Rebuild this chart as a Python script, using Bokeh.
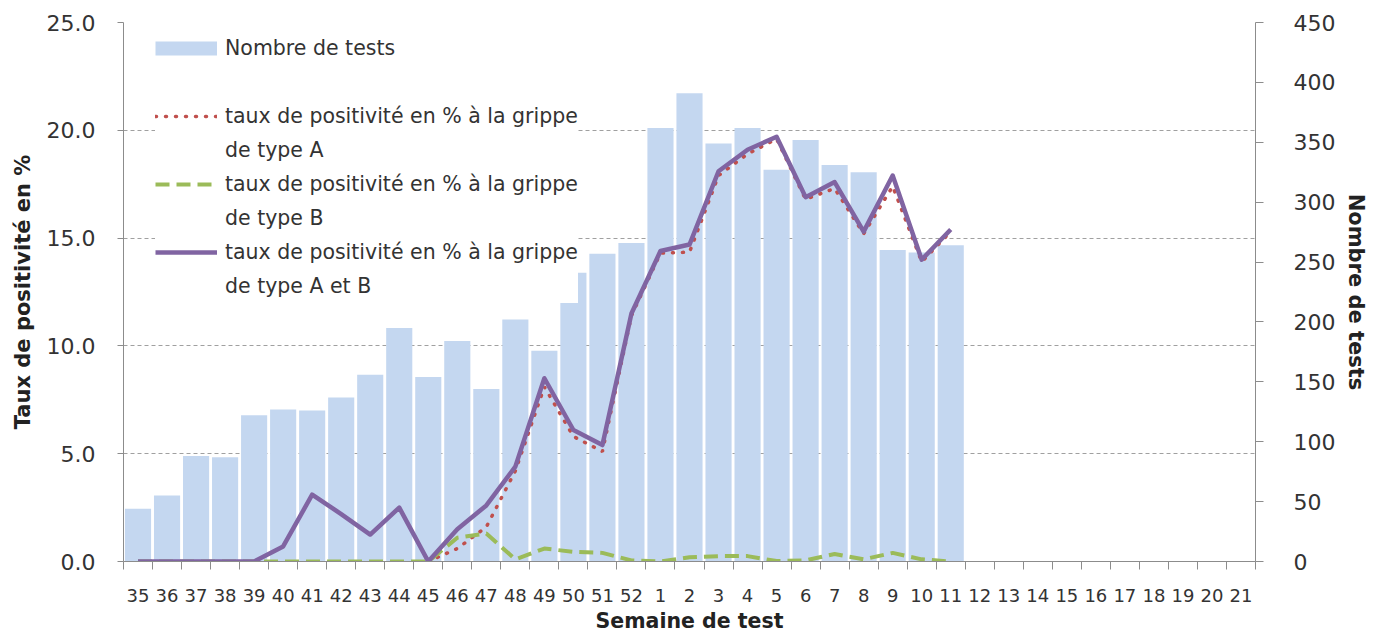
from bokeh.plotting import figure
from bokeh.models import (Range1d, LinearAxis, FixedTicker, Legend, LegendItem,
                          NumeralTickFormatter)
from bokeh.embed import file_html
from bokeh.resources import INLINE

NaN = float("nan")

weeks = ["35", "36", "37", "38", "39", "40", "41", "42", "43", "44", "45", "46",
         "47", "48", "49", "50", "51", "52", "1", "2", "3", "4", "5", "6", "7",
         "8", "9", "10", "11", "12", "13", "14", "15", "16", "17", "18", "19",
         "20", "21"]

tests = [44, 55, 88, 87, 122, 127, 126, 137, 156, 195, 154, 184, 144, 202, 176,
         241, 257, 266, 362, 391, 349, 362, 327, 352, 331, 325, 260, 258, 264]

rate_a = [NaN, NaN, NaN, NaN, NaN, NaN, NaN, NaN, NaN, NaN, 0.0, 0.6, 1.6, 4.2,
          8.1, 5.8, 5.1, 11.4, 14.3, 14.35, 17.9, 18.9, 19.6, 16.8, 17.3, 15.2,
          17.4, 13.9, 15.3]

rate_b = [0.0, 0.0, 0.0, 0.0, 0.0, 0.0, 0.0, 0.0, 0.0, 0.0, 0.0, 1.1, 1.3, 0.1,
          0.6, 0.45, 0.4, 0.05, 0.0, 0.2, 0.25, 0.25, 0.02, 0.05, 0.35, 0.1,
          0.4, 0.1, 0.0]

rate_ab = [0.0, 0.0, 0.0, 0.0, 0.0, 0.7, 3.1, 2.2, 1.25, 2.5, 0.0, 1.5, 2.6, 4.4,
           8.5, 6.1, 5.4, 11.5, 14.4, 14.7, 18.1, 19.1, 19.7, 16.9, 17.6, 15.3,
           17.9, 14.0, 15.4]

left_ticks = [0, 5, 10, 15, 20, 25]
right_ticks = [0, 50, 100, 150, 200, 250, 300, 350, 400, 450]

label_a = "taux de positivité en % à la grippe"
legend_lines = ["Nombre de tests", " ", label_a, "de type A", label_a,
                "de type B", label_a, "de type A et B"]

FONT = "DejaVu Sans"
TXT = "#333333"
AX = "#8c8c8c"

x_all = list(range(len(weeks)))
x_data = x_all[:len(tests)]

p = figure(width=1374, height=635, output_backend="svg", toolbar_location=None,
           x_range=Range1d(-0.5, len(weeks) - 0.5), y_range=Range1d(0, 25),
           min_border_left=123, min_border_right=119, min_border_top=22,
           min_border_bottom=73)
p.extra_y_ranges = {"tests": Range1d(0, 450)}
p.outline_line_color = None
p.background_fill_color = "white"
p.border_fill_color = "white"

# x axis
xa = p.xaxis[0]
xa.ticker = FixedTicker(ticks=x_all, minor_ticks=[i - 0.5 for i in range(len(weeks) + 1)])
xa.major_label_overrides = {i: w for i, w in enumerate(weeks)}
xa.major_tick_line_color = None
xa.major_tick_out = 8
xa.major_tick_in = 0
xa.minor_tick_line_color = AX
xa.minor_tick_out = 8
xa.minor_tick_in = 0
xa.axis_line_color = AX
xa.major_label_standoff = 19
xa.major_label_text_font = FONT
xa.major_label_text_font_size = "18px"
xa.major_label_text_color = TXT
xa.axis_label = "Semaine de test"
xa.axis_label_text_font = FONT
xa.axis_label_text_font_style = "bold"
xa.axis_label_text_font_size = "20.5px"
xa.axis_label_text_color = "#222222"
xa.axis_label_standoff = 4

# left axis
ya = p.yaxis[0]
ya.ticker = FixedTicker(ticks=left_ticks)
ya.formatter = NumeralTickFormatter(format="0.0")
ya.major_tick_out = 6
ya.major_tick_in = 0
ya.major_tick_line_color = AX
ya.minor_tick_line_color = None
ya.axis_line_color = AX
ya.major_label_standoff = 22
ya.major_label_text_font = FONT
ya.major_label_text_font_size = "22px"
ya.major_label_text_color = TXT
ya.axis_label = "Taux de positivité en %"
ya.axis_label_text_font = FONT
ya.axis_label_text_font_style = "bold"
ya.axis_label_text_font_size = "21px"
ya.axis_label_text_color = "#222222"
ya.axis_label_standoff = 9

# right axis
ra = LinearAxis(y_range_name="tests", ticker=FixedTicker(ticks=right_ticks))
ra.major_tick_out = 8
ra.major_tick_in = 0
ra.major_tick_line_color = AX
ra.minor_tick_line_color = None
ra.axis_line_color = AX
ra.major_label_standoff = 30
ra.major_label_text_font = FONT
ra.major_label_text_font_size = "22px"
ra.major_label_text_color = TXT
ra.axis_label = "Nombre de tests"
ra.axis_label_text_font = FONT
ra.axis_label_text_font_style = "bold"
ra.axis_label_text_font_size = "21px"
ra.axis_label_text_color = "#222222"
ra.axis_label_standoff = 6
p.add_layout(ra, "right")

p.xgrid.visible = False
p.ygrid.grid_line_color = "#a0a0a0"
p.ygrid.grid_line_dash = "4 3"
p.ygrid.grid_line_width = 1

bars = p.vbar(x=x_data, top=tests, width=0.9, bottom=0, y_range_name="tests",
              fill_color="#C4D7F0", line_color=None)

red = p.line(x_data, rate_a, line_color="#C0504D", line_width=3.5,
             line_dash="1 9", line_cap="round")
green = p.line(x_data, rate_b, line_color="#9BBB59", line_width=4,
               line_dash="14 7")
purple = p.line(x_data, rate_ab, line_color="#8064A2", line_width=4.5,
                line_join="round")

# legend keys: invisible placeholder renderers (no drawn data)
bar_key = p.line(x=[0], y=[NaN], line_color="#C4D7F0", line_width=14)
blank = p.line(x=[0], y=[NaN], line_alpha=0)

keys = [bar_key, blank, red, blank, green, blank, purple, blank]
items = [LegendItem(label=t, renderers=[r]) for t, r in zip(legend_lines, keys)]

legend = Legend(items=items, location=(32, 258), padding=6, spacing=0,
                glyph_width=62, glyph_height=34, label_height=34,
                label_standoff=8, label_text_font=FONT,
                label_text_font_size="20.5px", label_text_color=TXT,
                background_fill_color="white", background_fill_alpha=1.0,
                border_line_color=None)
p.add_layout(legend)

open("out.html", "w").write(file_html(p, INLINE))
